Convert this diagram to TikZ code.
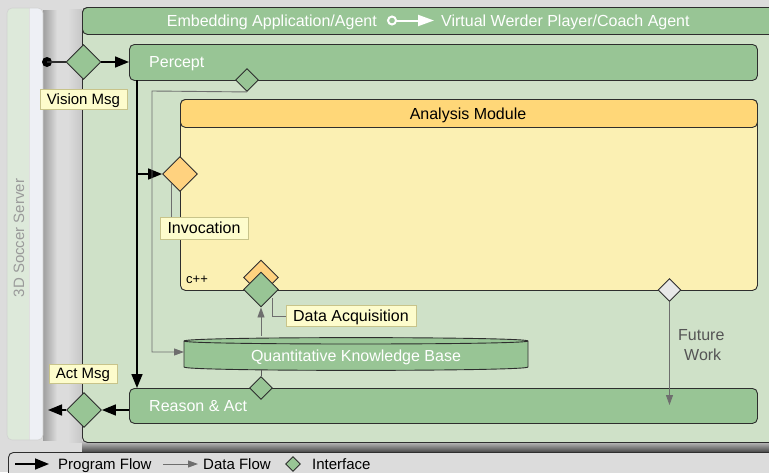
\documentclass[tikz,border=0pt]{standalone}
\usepackage{fontspec}
\setmainfont{Liberation Sans}
\usetikzlibrary{arrows.meta,shapes.geometric}

\definecolor{bgGray}{HTML}{DCDCDC}
\definecolor{panelGreen}{HTML}{CFE1C8}
\definecolor{barGreen}{HTML}{98C595}
\definecolor{modHead}{HTML}{FFD778}
\definecolor{modBody}{HTML}{FBF0B3}
\definecolor{ifOrange}{HTML}{FFD27F}
\definecolor{ifGray}{HTML}{E8E8E8}
\definecolor{noteFill}{HTML}{FDFCCC}
\definecolor{noteLine}{HTML}{C8C48A}
\definecolor{srvGreen}{HTML}{DDE9DA}
\definecolor{srvLight}{HTML}{EEF0F5}
\definecolor{flowGray}{HTML}{6E6E6E}
\definecolor{edgeDark}{HTML}{2E2E2E}
\definecolor{srvText}{HTML}{9A9A9A}
\definecolor{futText}{HTML}{555555}

\newcommand{\fsz}[1]{\fontsize{#1}{#1}\selectfont}

\begin{document}
\begin{tikzpicture}[x=1pt,y=-1pt,
  edge/.style={draw=edgeDark, line width=0.9pt},
  box/.style={edge, rounded corners=5pt, inner sep=0pt, anchor=north west},
  bar/.style={box, fill=barGreen},
  bartext/.style={text=white, font=\fsz{16}, anchor=base west, inner sep=0pt},
  plaintext/.style={font=\fsz{16}, anchor=base west, inner sep=0pt},
  iface/.style={diamond, edge, fill=barGreen, inner sep=0pt, minimum width=23pt, minimum height=23pt},
  bigiface/.style={iface, minimum width=35pt, minimum height=35pt},
  note/.style={draw=noteLine, fill=noteFill, line width=0.9pt, inner sep=0pt,
    text height=11pt, text depth=1pt, font=\fsz{16}},
  progflow/.style={line width=1.6pt, black, -{Triangle[length=14pt,width=11pt]}},
  dataflow/.style={line width=0.9pt, flowGray, -{Triangle[length=10pt,width=7pt]}},
  tapline/.style={line width=0.8pt, flowGray},
]
\clip (0,0) rectangle (769,472);
\fill[bgGray] (0,0) rectangle (769,472);

% --- shadows ---
\shade[left color=black!38, right color=bgGray] (43,10) rectangle (57,440);
\shade[left color=bgGray, right color=black!22] (68,9) rectangle (82,442);
\shade[top color=black!22, bottom color=black!72] (82,441) rectangle (769,452);

% --- legend strip ---
\node[box, fill=bgGray, minimum width=800pt, minimum height=40pt] (legend) at (8,452) {};
\draw[progflow] (15,464) coordinate (lgPa) -- (49,464) coordinate (lgPb);
\node[plaintext, font=\fsz{15}] (lgPtext) at (58,469) {Program Flow};
\draw[dataflow] (163,464) coordinate (lgDa) -- (198,464) coordinate (lgDb);
\node[plaintext, font=\fsz{15}] (lgDtext) at (203,469) {Data Flow};
\node[iface, minimum width=15pt, minimum height=15pt] (lgIf) at (293,464) {};
\node[plaintext, font=\fsz{15}] (lgItext) at (312,469) {Interface};

% --- soccer server bar ---
\node[anchor=north west, minimum width=36pt, minimum height=432pt, inner sep=0pt] (server) at (7,8) {};
\begin{scope}
  \clip[rounded corners=5pt] (7,8) rectangle (43,440);
  \fill[srvLight] (7,8) rectangle (43,440);
  \fill[srvGreen] (7,8) rectangle (29,440);
  \draw[black!12, line width=0.6pt] (29,8) -- (29,440);
\end{scope}
\draw[black!18, line width=0.6pt, rounded corners=5pt] (7,8) rectangle (43,440);
\node[rotate=90, text=srvText, font=\fsz{15}, inner sep=0pt] (serverText) at (19,238) {3D Soccer Server};

% --- embedding application panel ---
\node[box, fill=panelGreen, minimum width=700pt, minimum height=435pt] (panel) at (82,7) {};
\node[box, fill=barGreen, minimum width=700pt, minimum height=27pt] (panelHead) at (82,7) {};
\node[text=white, font=\fsz{16}, anchor=base east, inner sep=0pt] (titleL) at (377,26.5) {Embedding Application/Agent};
\node[bartext] (titleR) at (441,26.5) {Virtual Werder Player/Coach Agent};
\coordinate (titleArrA) at (387,20.5);
\coordinate (titleArrB) at (434,20.5);
\draw[white, line width=2pt,
  {Circle[length=10pt,width=10pt,fill=barGreen]}-{Triangle[length=16pt,width=11pt]}]
  (titleArrA) -- (titleArrB);

% --- percept and reason bars ---
\node[bar, minimum width=628pt, minimum height=36pt] (percept) at (129,44) {};
\node[bartext] (perceptText) at (149,67.5) {Percept};
\node[bar, minimum width=628pt, minimum height=35pt] (reason) at (129,388) {};
\node[bartext] (reasonText) at (149,411) {Reason \& Act};

% --- analysis module ---
\node[box, fill=modBody, minimum width=577pt, minimum height=191pt] (analysis) at (180,99) {};
\node[box, fill=modHead, minimum width=577pt, minimum height=28pt] (analysisHead) at (180,99) {};
\node[font=\fsz{16}, anchor=base, inner sep=0pt] (analysisText) at (468,119.5) {Analysis Module};
\node[plaintext, font=\fsz{13}] (cpp) at (186,283) {c++};

% --- knowledge base cylinder ---
\filldraw[fill=barGreen, draw=edgeDark, line width=0.9pt]
  (184,341) -- (184,367) .. controls (184,371.5) and (528,371.5) .. (528,367)
  -- (528,341) .. controls (528,336.5) and (184,336.5) .. (184,341) -- cycle;
\draw[edgeDark, line width=0.9pt] (184,341) .. controls (184,345) and (528,345) .. (528,341);
\node[minimum width=344pt, minimum height=30pt, inner sep=0pt] (kb) at (356,354) {};
\node[text=white, font=\fsz{16}, anchor=base, inner sep=0pt] (kbText) at (356,361) {Quantitative Knowledge Base};

% --- interfaces ---
\node[bigiface] (visionIf) at (83.5,62) {};
\node[bigiface] (actIf) at (84,410) {};
\node[iface] (perceptIf) at (247,80) {};
\node[iface] (reasonIf) at (261,388) {};
\node[bigiface, fill=ifOrange] (invocIf) at (180,174) {};
\node[bigiface, fill=ifOrange] (acqBack) at (261,277.5) {};
\node[bigiface] (acqIf) at (261,289.5) {};
\node[iface, fill=ifGray] (futureIf) at (669.5,290) {};

% --- program flow ---
\coordinate (visionDot) at (47,62);
\fill[black] (visionDot) circle[radius=5pt];
\draw[edgeDark, line width=1.4pt] (visionDot) -- (visionIf.west);
\draw[progflow] (visionIf.east) -- (percept.west |- visionIf.east);
\coordinate (busTop) at (137,80);
\coordinate (busBot) at (137,388);
\draw[progflow] (busTop) -- (busBot);
\draw[progflow] (busTop |- invocIf.west) -- (invocIf.west);
\coordinate (reasonOut) at (129,410);
\draw[progflow] (reasonOut) -- (actIf.east);
\coordinate (actOut) at (48,410);
\draw[progflow] (actIf.west) -- (actOut);

% --- data flow ---
\coordinate (kbIn) at (184,352);
\draw[dataflow] (perceptIf.south) -- (152,91) -- (152,352) -- (kbIn);
\draw[dataflow] (kb.north -| acqIf) ++(0,-3) -- (acqIf.south);
\draw[tapline, edgeDark!80] (kb.south -| reasonIf) -- (reasonIf.north);
\coordinate (futureEnd) at (669.5,405);
\draw[dataflow] (futureIf.south) -- (futureEnd);
\node[plaintext, text=futText] (futureA) at (678,340) {Future};
\node[plaintext, text=futText] (futureB) at (684,360) {Work};

% --- notes ---
\node[note, minimum width=87pt, minimum height=20pt, font=\fsz{15}] (visionNote) at (83.5,99) {Vision Msg};
\node[note, minimum width=68pt, minimum height=19pt, font=\fsz{15}] (actNote) at (83,373.5) {Act Msg};
\node[note, minimum width=88pt, minimum height=22pt] (invocNote) at (204,228) {Invocation};
\node[note, minimum width=130pt, minimum height=21pt] (acqNote) at (351,316) {Data Acquisition};
\coordinate (invocTap) at (171,183);
\draw[tapline] (invocTap) -- (invocTap |- invocNote.north);
\coordinate (acqTap) at (272,298);
\draw[tapline] (acqTap) |- (acqNote.west);
\end{tikzpicture}
\end{document}
